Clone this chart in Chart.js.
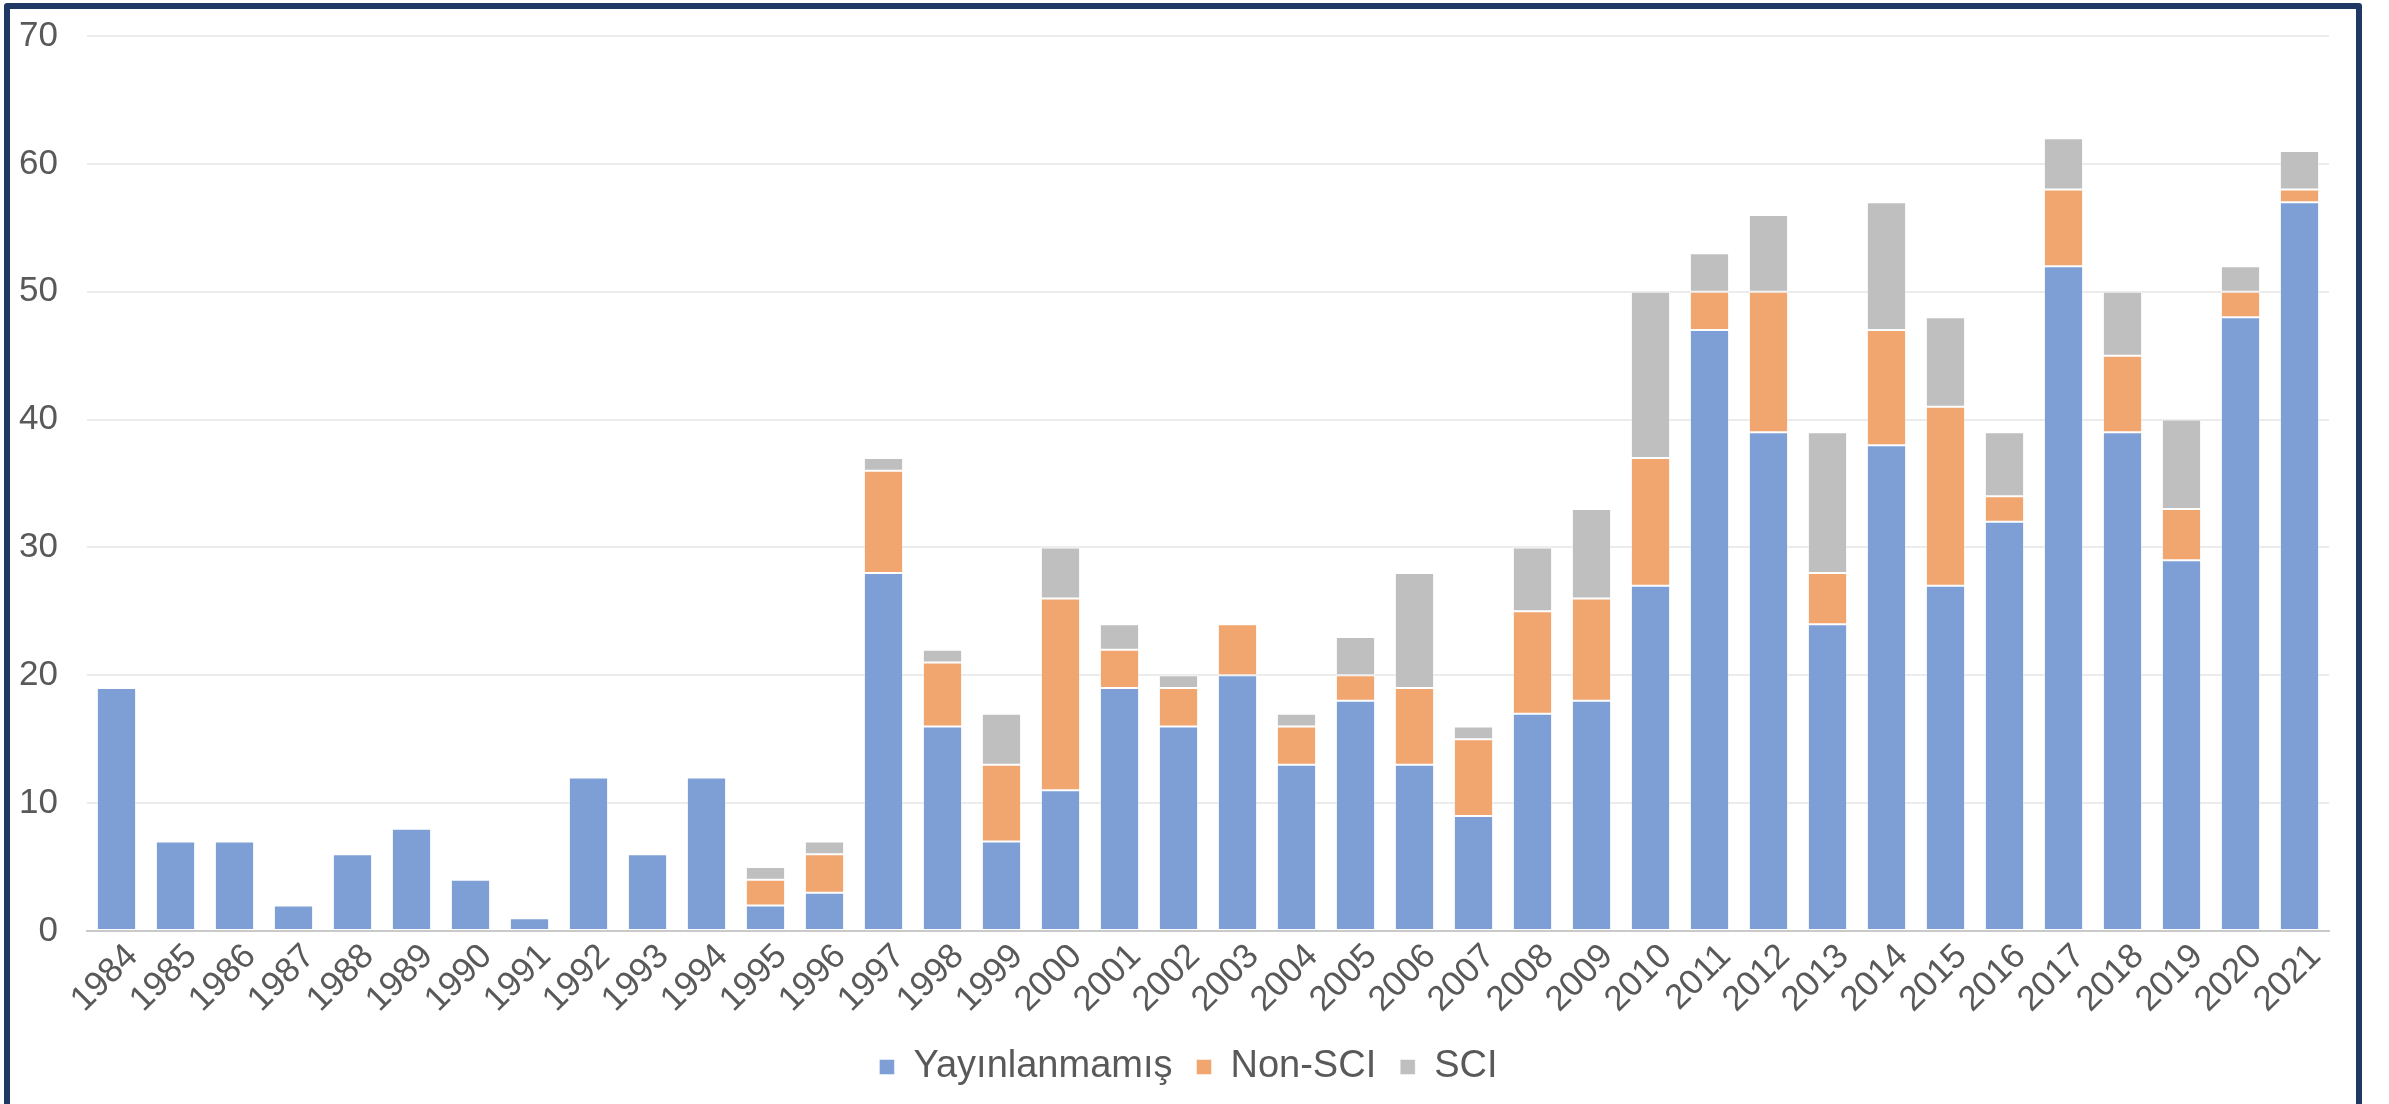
<!DOCTYPE html>
<html>
<head>
<meta charset="utf-8">
<script src="https://cdn.jsdelivr.net/npm/chart.js@4.4.1/dist/chart.umd.min.js"></script>
<style>
  html, body { margin: 0; padding: 0; background: #fff; overflow: hidden; }
  .wrap { position: relative; width: 2389px; height: 1104px; }
  .frame {
    position: absolute; left: 4px; top: 3px; width: 2358px; height: 1120px;
    box-sizing: border-box; border: 6px solid #203864; border-radius: 3px;
    pointer-events: none;
  }
  canvas { position: absolute; left: 0; top: 0; }
</style>
</head>
<body>
<div class="wrap">
  <canvas class="js-chart" width="2389" height="1104"></canvas>
  <div class="frame"></div>
</div>
<script>
const years = ['1984', '1985', '1986', '1987', '1988', '1989', '1990', '1991', '1992', '1993',
    '1994', '1995', '1996', '1997', '1998', '1999', '2000', '2001', '2002', '2003',
    '2004', '2005', '2006', '2007', '2008', '2009', '2010', '2011', '2012', '2013',
    '2014', '2015', '2016', '2017', '2018', '2019', '2020', '2021'];

const unpublished = [19, 7, 7, 2, 6, 8, 4, 1, 12, 6,
    12, 2, 3, 28, 16, 7, 11, 19, 16, 20,
    13, 18, 13, 9, 17, 18, 27, 47, 39, 24,
    38, 27, 32, 52, 39, 29, 48, 57];

const nonSci = [0, 0, 0, 0, 0, 0, 0, 0, 0, 0,
    0, 2, 3, 8, 5, 6, 15, 3, 3, 4,
    3, 2, 6, 6, 8, 8, 10, 3, 11, 4,
    9, 14, 2, 6, 6, 4, 2, 1];

const sci = [0, 0, 0, 0, 0, 0, 0, 0, 0, 0,
    0, 1, 1, 1, 1, 4, 4, 2, 1, 0,
    1, 3, 9, 1, 5, 7, 13, 3, 6, 11,
    10, 7, 5, 4, 5, 7, 2, 3];

const yTicks = [0, 10, 20, 30, 40, 50, 60, 70];

const ctx = document.querySelector('.js-chart').getContext('2d');
const TEXT_COLOR = '#595959';
const FONT = 'Liberation Sans, Arial, sans-serif';

function makeSet(label, data, color) {
    return {
        label: label,
        data: data,
        backgroundColor: color,
        borderColor: 'rgba(255,255,255,0.45)',
        borderWidth: 1,
        borderSkipped: false,
        categoryPercentage: 1,
        barPercentage: 0.665
    };
}

// keep the scales from pushing the plot area around
function noPad(scale) {
    scale.paddingTop = 0;
    scale.paddingBottom = 0;
    scale.paddingLeft = 0;
    scale.paddingRight = 0;
}

new Chart(ctx, {
    type: 'bar',
    data: {
        labels: years,
        datasets: [
            makeSet('Yayınlanmamış', unpublished, '#7d9fd6'),
            makeSet('Non-SCI', nonSci, '#f1a56f'),
            makeSet('SCI', sci, '#bfbfbf')
        ]
    },
    options: {
        responsive: false,
        animation: false,
        layout: { padding: { top: 36, right: 12, left: 0, bottom: 8 } },
        plugins: {
            tooltip: { enabled: false },
            legend: {
                position: 'bottom',
                labels: {
                    color: TEXT_COLOR,
                    font: { family: FONT, size: 38 },
                    boxWidth: 15,
                    boxHeight: 15,
                    padding: 24
                }
            }
        },
        scales: {
            x: {
                stacked: true,
                grid: { display: false, drawTicks: false },
                border: { color: '#c9c9c9', width: 2 },
                ticks: {
                    color: TEXT_COLOR,
                    font: { family: FONT, size: 35 },
                    minRotation: 45,
                    maxRotation: 45,
                    autoSkip: false,
                    padding: 5,
                    labelOffset: 16
                },
                afterFit(scale) { scale.height = 93; noPad(scale); }
            },
            y: {
                stacked: true,
                min: 0,
                max: 70,
                afterBuildTicks(scale) { scale.ticks = yTicks.map(v => ({ value: v })); },
                grid: { color: '#ececec', lineWidth: 2, drawTicks: false },
                border: { display: false },
                ticks: {
                    color: TEXT_COLOR,
                    font: { family: FONT, size: 35 },
                    padding: 29
                },
                afterFit(scale) { scale.width = 87; noPad(scale); }
            },
            // empty right-hand strip so the legend centres on the whole frame
            spacer: {
                type: 'linear',
                position: 'right',
                grid: { display: false },
                border: { display: false },
                ticks: { display: false },
                afterFit(scale) { scale.width = 48; noPad(scale); }
            }
        }
    }
});
</script>
</body>
</html>
